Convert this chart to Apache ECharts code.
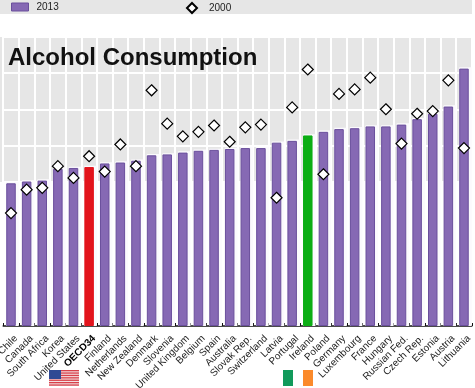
<!DOCTYPE html>
<html><head><meta charset="utf-8">
<style>html,body{margin:0;padding:0;background:#fff}#c{width:475px;height:388px}</style>
<script src="https://cdn.jsdelivr.net/npm/echarts@6/dist/echarts.min.js"></script>
</head><body><div id="c"></div>
<script>
const categories = ['Chile','Canada','South Africa','Korea','United States','OECD34','Finland','Netherlands','New Zealand','Denmark','Slovenia','United Kingdom','Belgium','Spain','Australia','Slovak Rep.','Switzerland','Latvia','Portugal','Ireland','Poland','Germany','Luxembourg','France','Hungary','Russian Fed.','Czech Rep.','Estonia','Austria','Lithuania'];
const values2013 = [7.9,8.0,8.05,8.7,8.75,8.8,9.0,9.05,9.15,9.45,9.5,9.6,9.7,9.75,9.8,9.85,9.85,10.15,10.25,10.55,10.75,10.9,10.95,11.05,11.05,11.15,11.45,11.75,12.15,14.25];
const values2000 = [6.25,7.55,7.65,8.85,8.2,9.4,8.55,10.05,8.85,13.05,11.2,10.5,10.75,11.1,10.2,11,11.15,7.1,12.1,14.2,8.4,12.85,13.1,13.75,12,10.1,11.75,11.9,13.6,9.85];
const highlight = {'OECD34':'#e2141c','Ireland':'#0cae14'};
const barColor = '#8669b4', barBorder = '#6a4f9c', grey = '#e6e6e6';
const font = '"Liberation Sans", Arial, sans-serif';

const usStripes = [];
for (let i = 0; i < 7; i++) usStripes.push({type:'rect',shape:{x:49,y:370+i*2.4,width:30,height:1.3},style:{fill:'#d8404a'},silent:true});

const labelBase = {verticalAlign:'top',padding:[2,0,0,0],fontSize:10,fontFamily:font};
const chart = echarts.init(document.getElementById('c'),null,{renderer:'canvas'});
chart.setOption({
  animation:false,
  backgroundColor:'#fff',
  textStyle:{fontFamily:font},
  title:{text:'Alcohol Consumption',left:3,top:41,textStyle:{fontFamily:font,fontSize:24,fontWeight:'bold',color:'#111'}},
  legend:[
    {left:6,top:-3,itemWidth:17,itemHeight:8,itemGap:0,icon:'rect',data:[{name:'2013',itemStyle:{color:barColor,borderColor:barBorder,borderWidth:1}}],textStyle:{fontSize:10,color:'#222',fontFamily:font,padding:[0,0,0,3]}},
    {left:181,top:-3,itemWidth:10,itemHeight:10,data:['2000'],textStyle:{fontSize:10,color:'#222',fontFamily:font,padding:[0,0,0,7]}}
  ],
  grid:{left:3.2,right:3.2,top:37,bottom:62,outerBoundsMode:'none'},
  xAxis:{type:'category',data:categories.map(c=>c==='OECD34'?{value:c,textStyle:{...labelBase,fontWeight:'bold',color:'#000'}}:c),
    axisLine:{lineStyle:{color:'#111',width:1.5}},
    axisTick:{show:true,inside:true,length:3,lineStyle:{color:'#111',width:1}},
    splitLine:{show:true,lineStyle:{color:'#fff',width:2}},
    axisLabel:{...labelBase,rotate:45,interval:0,margin:6,color:'#222'}},
  yAxis:{type:'value',min:0,max:16,interval:2,axisLabel:{show:false},axisLine:{show:false},axisTick:{show:false},
    splitLine:{show:true,lineStyle:{color:'#fff',width:2}},
    splitArea:{show:true,areaStyle:{color:['#fff','#fff','#fff','#fff',grey,grey,grey,grey]}}},
  graphic:[
    {type:'rect',shape:{x:0,y:0,width:472,height:14},style:{fill:grey},z:-1,silent:true},
    {type:'rect',shape:{x:0,y:37,width:3,height:145},style:{fill:grey},z:-1,silent:true},
    {type:'rect',shape:{x:49,y:370,width:30,height:16},style:{fill:'#f3dfe0'},silent:true},
    ...usStripes,
    {type:'rect',shape:{x:49,y:370,width:12,height:9},style:{fill:'#2f4a94'},silent:true},
    {type:'rect',shape:{x:283,y:370,width:10,height:16},style:{fill:'#119a5b'},silent:true},
    {type:'rect',shape:{x:303,y:370,width:10,height:16},style:{fill:'#fb8a2b'},silent:true}
  ],
  series:[
    {name:'halo',type:'bar',barWidth:12.5,barGap:'-100%',z:1,silent:true,itemStyle:{color:'#fbfafd'},
     data:values2013.map(v=>v+0.07)},
    {name:'2013',type:'bar',barWidth:9.5,barGap:'-100%',z:2,
     data:categories.map((c,i)=>({value:values2013[i],itemStyle:{color:highlight[c]||barColor,borderColor:highlight[c]||barBorder,borderWidth:1}}))},
    {name:'2000',type:'scatter',symbol:'diamond',symbolSize:11,z:3,
     itemStyle:{color:'#fff',borderColor:'#000',borderWidth:1.2,opacity:1},data:values2000}
  ]
});
</script></body></html>
